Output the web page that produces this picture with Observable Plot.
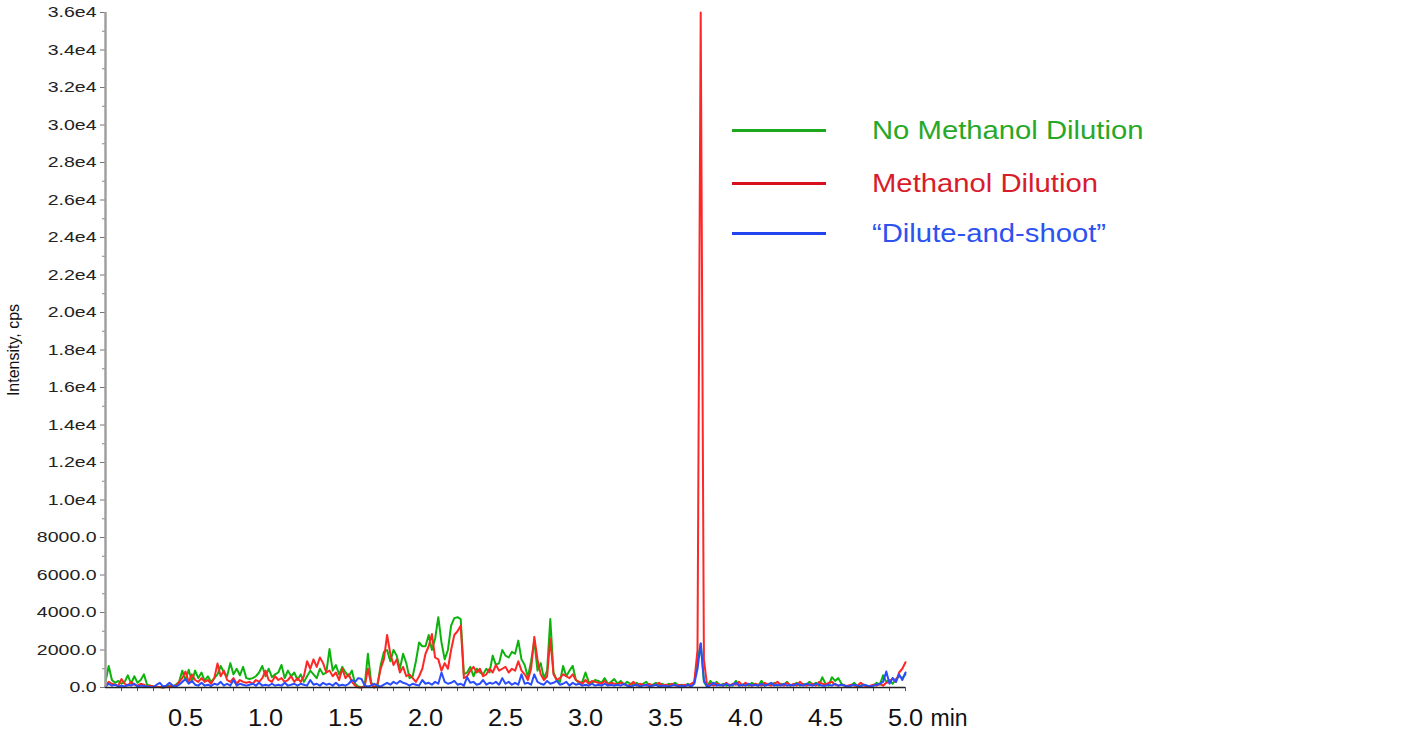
<!DOCTYPE html>
<html><head><meta charset="utf-8">
<script src="https://cdn.jsdelivr.net/npm/d3@7"></script>
<script src="https://cdn.jsdelivr.net/npm/@observablehq/plot@0.6"></script>
<style>
body{margin:0;background:#fff;}
#wrap{position:relative;width:1416px;height:738px;font-family:"Liberation Sans",Arial,sans-serif;overflow:hidden;}
.leg-line{position:absolute;height:3px;width:94px;left:732px;}
.leg-text{position:absolute;left:872px;font-size:25px;line-height:30px;white-space:nowrap;transform:scaleX(1.17);transform-origin:0 50%;}
</style></head><body><div id="wrap"></div>
<script>
// ---- data (intensity, cps; sampled every 0.02 min from 0.00 to 5.00) ----
const startTime = 0;
const step = 0.02;
const seriesNames = ["No Methanol Dilution", "Methanol Dilution", "\u201cDilute-and-shoot\u201d"];
const seriesColors = ["#0db30d", "#ff2626", "#2a4dff"];
const legendTextColors = ["#28a828", "#d81c2c", "#2c52f0"];
const legendLineColors = ["#1ea81e", "#d8101e", "#2244ee"];

const noMethanol = [
  300,1150,400,250,350, 200,300,650,200,600, 250,400,700,150,100, 50,20,30,0,50,
  100,50,150,300,900, 400,950,300,900,500, 800,350,600,300,500, 700,1150,800,600,1300,
  700,1000,650,1100,500, 450,500,600,800,1150,
  600,1000,550,700,800, 1200,500,900,600,800, 400,700,300,600,900, 700,500,1000,700,800,
  2050,900,1200,700,1100, 800,600,900,200,50, 0,100,1800,300,0, 100,1200,1900,2000,1400,
  2000,1700,1000,1800,1300, 500,600,1400,2400,2200,
  2200,2800,2000,2600,3750, 2400,1500,2000,3300,3700, 3750,3650,700,800,1100, 600,1000,800,700,1000,
  800,1700,1200,1300,2000, 1700,1600,1900,1800,2500, 1500,1200,550,1400,2500, 900,1300,500,900,3650,
  800,400,300,1150,600, 900,1150,400,250,300,
  800,300,200,400,350, 250,500,200,300,450, 200,350,150,300,200, 150,250,100,200,300,
  100,150,250,100,200, 100,200,150,250,100, 150,100,200,50,300, 1400,2350,300,50,350,
  150,300,100,200,100, 150,100,350,100,150,
  200,100,250,150,100, 350,100,200,150,250, 100,200,150,300,100, 150,250,100,200,150,
  300,150,250,100,550, 200,100,550,350,500, 200,100,50,100,250, 50,100,150,100,50,
  100,250,150,650,300, 400,200,450,600,500,
  700
];
const methanol = [
  100,300,200,150,100, 450,200,100,300,150, 100,200,150,50,100, 50,20,30,0,30,
  50,100,80,300,500, 850,300,700,400,300, 500,300,400,200,500, 1280,600,900,400,300,
  500,200,400,300,250, 300,200,400,300,500,
  900,400,300,600,400, 500,300,400,600,300, 500,300,600,1400,1000, 1500,1100,1600,1300,800,
  900,600,800,400,1000, 500,700,300,100,0, 0,50,1000,200,0, 200,1000,1500,2800,1800,
  1200,1500,800,1100,600, 700,500,300,600,1000,
  1800,2200,2850,1600,1500, 900,1300,1000,2000,2800, 3000,3300,500,600,900, 1100,800,1000,600,700,
  1000,800,1200,900,1000, 1100,800,1000,900,1400, 900,700,400,1000,2700, 1500,700,400,600,2600,
  700,400,500,700,600, 500,700,400,300,200,
  400,200,350,300,250, 200,350,150,250,200, 150,250,200,100,150, 300,100,200,150,100,
  200,100,150,250,100, 150,100,200,100,150, 100,150,100,200,300, 2000,36000,1500,100,200,
  100,200,150,100,250, 100,200,150,300,100,
  250,150,100,200,150, 100,250,150,100,200, 300,150,100,250,100, 200,100,300,150,100,
  150,200,100,300,200, 150,250,300,150,100, 150,100,100,150,100, 100,250,100,50,100,
  150,100,200,100,250, 300,500,300,800,1000,
  1350
];
const diluteShoot = [
  50,200,100,150,50, 100,50,150,100,200, 50,100,80,50,30, 20,150,250,50,100,
  250,100,50,150,300, 450,200,350,150,100, 250,100,150,80,200, 150,300,100,200,100,
  400,100,200,150,100, 150,200,100,250,100,
  150,100,200,100,150, 100,250,100,150,200, 100,200,150,100,400, 150,200,100,250,150,
  200,100,250,100,150, 100,200,400,300,500, 450,100,50,100,200, 100,50,150,250,150,
  300,200,350,250,200, 100,200,150,100,400,
  200,250,150,300,200, 800,300,200,250,350, 150,200,100,550,250, 300,150,200,400,150,
  250,200,300,150,500, 200,300,150,250,150, 700,200,250,150,700, 300,200,150,350,200,
  250,350,150,200,300, 100,250,150,200,100,
  150,100,200,100,150, 100,200,100,150,100, 150,100,200,100,50, 100,150,50,100,150,
  50,100,150,50,100, 100,50,100,150,50, 100,50,150,50,200, 1000,2350,400,50,100,
  250,100,150,100,200, 100,150,250,100,150,
  100,200,100,150,100, 200,100,150,250,100, 150,100,200,100,150, 100,200,150,100,200,
  150,100,200,150,100, 100,150,100,200,100, 150,100,50,100,150, 100,50,150,100,50,
  100,150,200,300,850, 200,500,300,700,400,
  800
];
const seriesValues = [noMethanol, methanol, diluteShoot];

// ---- axes ----
const yMajor = [0,2000,4000,6000,8000,10000,12000,14000,16000,18000,20000,22000,24000,26000,28000,30000,32000,34000,36000];
const yTickLabels = ["0.0","2000.0","4000.0","6000.0","8000.0","1.0e4","1.2e4","1.4e4","1.6e4","1.8e4","2.0e4","2.2e4","2.4e4","2.6e4","2.8e4","3.0e4","3.2e4","3.4e4","3.6e4"];
const yMinor = [1000,3000,5000,7000,9000,11000,13000,15000,17000,19000,21000,23000,25000,27000,29000,31000,33000,35000];
const xMajor = [0.5,1.0,1.5,2.0,2.5,3.0,3.5,4.0,4.5,5.0];
const xTickLabels = ["0.5","1.0","1.5","2.0","2.5","3.0","3.5","4.0","4.5","5.0"];
const xMinor = [0.1,0.2,0.3,0.4,0.6,0.7,0.8,0.9,1.1,1.2,1.3,1.4,1.6,1.7,1.8,1.9,2.1,2.2,2.3,2.4,2.6,2.7,2.8,2.9,3.1,3.2,3.3,3.4,3.6,3.7,3.8,3.9,4.1,4.2,4.3,4.4,4.6,4.7,4.8,4.9];
const yAxisLabel = "Intensity, cps";
const xUnitLabel = "min";

// ---- build table ----
const rows = [];
seriesValues.forEach((vals, s) => vals.forEach((v, i) => rows.push({s, t: startTime + i * step, v})));
const yLab = new Map(yMajor.map((d, i) => [d, yTickLabels[i]]));
const xLab = new Map(xMajor.map((d, i) => [d, xTickLabels[i]]));
const font = "Liberation Sans, Arial, Helvetica, sans-serif";

const chart = Plot.plot({
  width: 1416, height: 738,
  marginLeft: 105, marginRight: 511, marginTop: 12, marginBottom: 51,
  style: {fontFamily: font, background: "white", color: "#222", overflow: "visible"},
  x: {domain: [0, 5], label: null},
  y: {domain: [0, 36000], label: null},
  marks: [
    Plot.axisY(yMinor, {tickSize: 3, text: null, stroke: "#888"}),
    Plot.axisY(yMajor, {tickSize: 5, tickPadding: 4, tickFormat: d => yLab.get(d), fontSize: 15, stroke: "#777", fill: "#222"}),
    Plot.axisX(xMinor, {tickSize: 4, text: null, stroke: "#555"}),
    Plot.axisX(xMajor, {tickSize: 4, tickPadding: 18, tickFormat: d => xLab.get(d), fontSize: 23, stroke: "#555", fill: "#111"}),
    ...[0, 1, 2].map(s => Plot.lineY(rows.filter(d => d.s === s), {x: "t", y: "v", stroke: seriesColors[s], strokeWidth: 2, strokeLinejoin: "round"})),
    Plot.ruleX([0], {stroke: "#a0a0a0", strokeWidth: 2.5}),
    Plot.ruleY([0], {stroke: "#222", strokeWidth: 1.5}),
    Plot.text([yAxisLabel], {text: d => d, frameAnchor: "left", textAnchor: "middle", lineAnchor: "middle", dx: -92, rotate: -90, fontSize: 16, fill: "#111"}),
    Plot.text([xUnitLabel], {text: d => d, frameAnchor: "bottom-right", dx: 25, dy: 31, textAnchor: "start", lineAnchor: "middle", fontSize: 23, fill: "#111"})
  ]
});
const wrap = document.getElementById("wrap");
wrap.appendChild(chart);

function stretch(sel, k) {
  d3.select(chart).selectAll(sel).each(function () {
    const w = this.getComputedTextLength();
    this.setAttribute("textLength", w * k);
    this.setAttribute("lengthAdjust", "spacingAndGlyphs");
  });
}
stretch('g[aria-label="y-axis tick label"] text', 1.3);
stretch('g[aria-label="x-axis tick label"] text', 1.1);

// legend
const legendY = [130, 183, 233];
seriesNames.forEach((name, i) => {
  const line = document.createElement("div");
  line.className = "leg-line";
  line.style.top = (legendY[i] - 1.5) + "px";
  line.style.background = legendLineColors[i];
  wrap.appendChild(line);
  const t = document.createElement("div");
  t.className = "leg-text";
  t.style.top = (legendY[i] - 15) + "px";
  t.style.color = legendTextColors[i];
  t.textContent = name;
  wrap.appendChild(t);
});
</script></body></html>
